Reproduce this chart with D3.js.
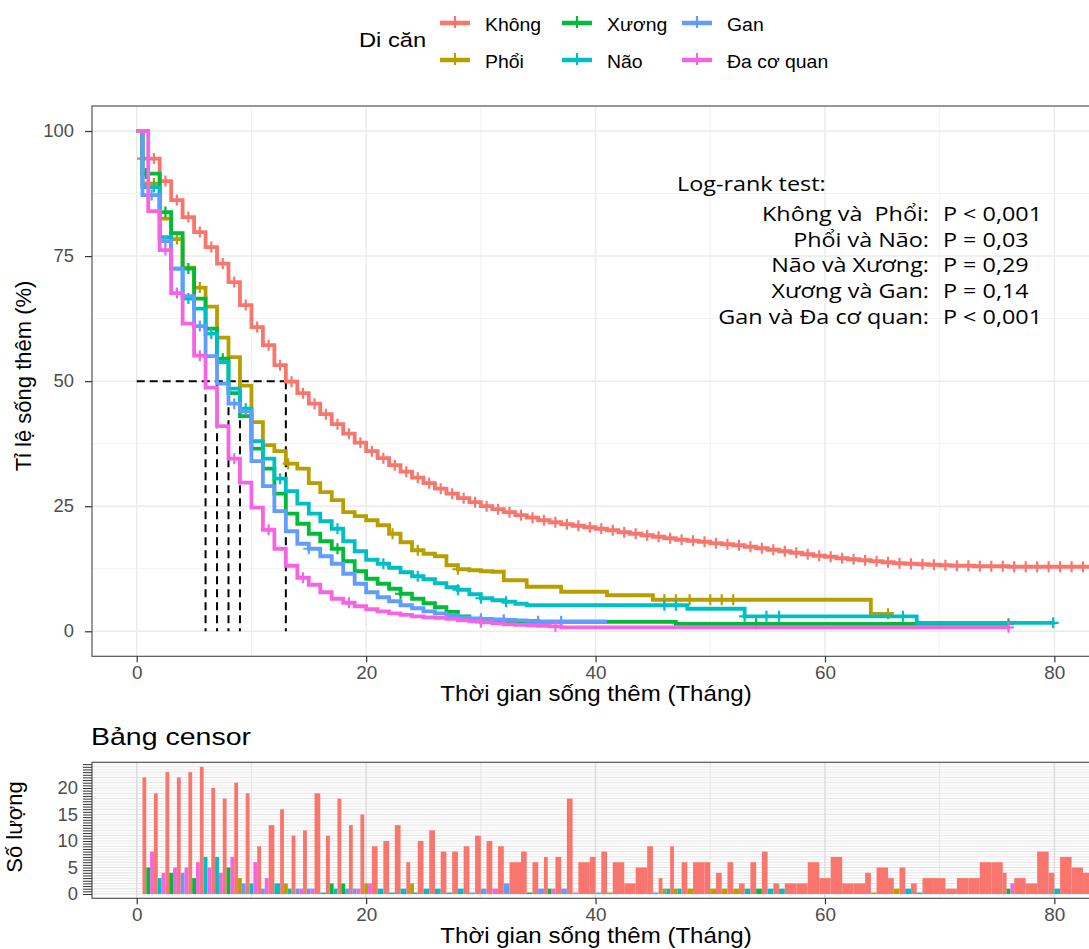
<!DOCTYPE html>
<html>
<head>
<meta charset="utf-8">
<script src="https://cdn.jsdelivr.net/npm/d3@7"></script>
<style>
body { margin: 0; background: #fff; }
text { font-family: "Liberation Sans", Arial, sans-serif; white-space: pre; }
</style>
</head>
<body>
<svg id="chart" width="1089" height="949"></svg>
<script>
// groups, in legend order, with ggplot hue colours
var groups = ["Không", "Phổi", "Xương", "Não", "Gan", "Đa cơ quan"];
var colors = ["#F8766D", "#B79F00", "#00BA38", "#00BFC4", "#619CFF", "#F564E3"];

// survival curves (% surviving), step times in months
var khongTimes = [0, 0.5, 2, 3, 4, 5, 6, 7, 8, 9, 10, 11, 12, 13, 14, 15, 16, 17, 18, 19, 20, 21, 22, 23,
  24, 25, 26, 27, 28, 29, 30, 31, 32, 33, 34, 35, 36, 37, 38, 39, 40, 41, 42, 43, 44, 45, 46, 47, 48, 49,
  50, 51, 52, 53, 54, 55, 56, 57, 58, 59, 60, 61, 62, 63, 64, 65, 66, 67, 68, 69, 70, 71, 72, 73, 74, 75,
  76, 77, 78, 79, 80, 81, 82, 83, 84];
var khongSurv = [100, 94.5, 90.0, 86.2, 82.8, 79.8, 76.8, 73.5, 69.8, 65.2, 60.8, 57.2, 53.2, 49.9, 47.6,
  45.5, 43.4, 41.4, 39.5, 37.7, 36.0, 34.6, 33.2, 31.9, 30.7, 29.6, 28.5, 27.5, 26.6, 25.8, 25.0, 24.4,
  23.8, 23.2, 22.7, 22.2, 21.8, 21.4, 21.1, 20.8, 20.5, 20.2, 19.8, 19.5, 19.2, 18.9, 18.6, 18.3, 18.1,
  17.9, 17.6, 17.4, 17.2, 16.9, 16.6, 16.3, 16.0, 15.7, 15.4, 15.1, 14.9, 14.6, 14.4, 14.2, 14.0, 13.8,
  13.6, 13.5, 13.4, 13.3, 13.2, 13.1, 13.1, 13.0, 13.0, 13.0, 12.9, 12.9, 12.9, 12.9, 12.9, 12.9, 12.9,
  12.9, 12.9];
var phoiTimes = [0, 0.5, 2, 3, 4, 5, 6, 7, 8, 9, 10, 11, 12, 13, 14, 15, 16, 17, 18, 19, 20, 21, 22, 23, 24,
  25, 26, 27, 28, 29, 30, 31, 32, 34, 37, 41, 45, 64];
var phoiSurv = [100, 89.5, 82.5, 78.4, 72.7, 68.7, 64.9, 58.7, 54.8, 49.1, 41.8, 37.2, 36.0, 33.5, 32.5,
  29.6, 27.8, 26.2, 23.8, 23.0, 22.2, 21.2, 19.5, 17.8, 16.2, 15.5, 15.0, 13.2, 12.4, 12.2, 12.0, 11.9,
  10.2, 8.9, 7.9, 7.2, 6.3, 3.5];
var xuongTimes = [0, 0.5, 2, 3, 4, 5, 6, 7, 8, 9, 10, 11, 12, 13, 14, 15, 16, 17, 18, 19, 20, 21, 22, 23, 24,
  25, 26, 27, 28, 29, 30, 31, 32, 33, 34, 47];
var xuongSurv = [100, 91.5, 83.8, 79.6, 72.5, 66.5, 60.5, 54.5, 47.6, 43.0, 36.5, 32.5, 27.5, 23.5, 21.5,
  19.5, 18.0, 16.5, 14.0, 12.0, 10.5, 9.5, 8.5, 7.5, 6.5, 5.6, 4.8, 3.9, 3.0, 2.5, 2.3, 2.1, 2.0, 2.0,
  1.9, 1.5];
var naoTimes = [0, 0.5, 2, 3, 4, 5, 6, 7, 8, 9, 10, 11, 12, 13, 14, 15, 16, 17, 18, 19, 20, 21, 22, 23, 24,
  25, 26, 27, 28, 29, 30, 31, 32, 33, 34, 48, 53, 68];
var naoSurv = [100, 88.8, 78.8, 72.5, 66.5, 64.5, 59.5, 53.8, 48.5, 44.5, 38.0, 34.5, 30.5, 28.0, 25.5,
  23.5, 22.0, 20.5, 18.0, 16.0, 14.3, 13.5, 12.7, 11.8, 11.0, 10.4, 9.6, 8.8, 8.3, 7.4, 6.6, 6.2, 5.9,
  5.5, 5.2, 4.5, 3.0, 1.7];
var ganTimes = [0, 0.5, 2, 3, 4, 5, 6, 7, 8, 9, 10, 11, 12, 13, 14, 15, 16, 17, 18, 19, 20, 21, 22, 23, 24,
  25, 26, 27, 28, 29, 30, 31, 32, 33, 34, 35];
var ganSurv = [100, 87.2, 78.0, 72.5, 67.0, 61.0, 55.0, 49.5, 45.5, 44.0, 34.0, 29.0, 24.0, 20.0, 17.5,
  16.5, 15.0, 13.5, 11.5, 9.5, 7.8, 6.8, 6.0, 5.2, 4.6, 4.0, 3.6, 3.2, 2.8, 2.6, 2.5, 2.4, 2.3, 2.2, 2.1,
  2.0];
var daTimes = [0, 1, 2, 3, 4, 5, 6, 7, 8, 9, 10, 11, 12, 13, 14, 15, 16, 17, 18, 19, 20, 21, 22, 23, 24,
  25, 26, 27, 28, 29, 30, 31, 32, 33, 34, 35, 36, 37];
var daSurv = [100, 84.0, 76.2, 67.6, 61.5, 55.1, 48.7, 41.0, 34.5, 29.7, 24.7, 20.3, 16.5, 13.1, 10.7, 9.3,
  7.8, 6.5, 5.7, 5.0, 4.4, 4.0, 3.6, 3.3, 3.0, 2.8, 2.7, 2.5, 2.2, 2.0, 1.8, 1.6, 1.4, 1.3, 1.2, 1.1,
  1.0, 0.8];
// last follow-up time of each curve
var endTimes = [86, 66, 76, 80, 41, 76];

// censoring times drawn as "+" on the curves
var khongCens = [0.5, 1.5, 2.5, 3.5, 4.5, 5.5, 6.5, 7.5, 8.5, 9.5, 10.5, 11.5, 12.5, 13.5, 14.5, 15.5,
  16.5, 17.5, 18.5, 19.5, 20.5, 21.5, 22.5, 23.5, 24.5, 25.5, 26.5, 27.5, 28.5, 29.5, 30.5, 31.5, 32.5,
  33.5, 34.5, 35.5, 36.5, 37.5, 38.5, 39.5, 40.5, 41.5, 42.5, 43.5, 44.5, 45.5, 46.5, 47.5, 48.5, 49.5,
  50.5, 51.5, 52.5, 53.5, 54.5, 55.5, 56.5, 57.5, 58.5, 59.5, 60.5, 61.5, 62.5, 63.5, 64.5, 65.5, 66.5,
  67.5, 68.5, 69.5, 70.5, 71.5, 72.5, 73.5, 74.5, 75.5, 76.5, 77.5, 78.5, 79.5, 80.5, 81.5, 82.5, 83.5];
var phoiCens = [1.5, 3.5, 5.5, 13.2, 22.3, 24.5, 28, 46, 47, 48.2, 50, 51, 52, 65.5];
var xuongCens = [0.8, 2.5, 4.5, 7.5, 17.5, 23, 54, 76];
var naoCens = [1.5, 4.5, 6.5, 9.5, 12.5, 17.5, 21.5, 24.5, 28, 30, 32.2, 46, 47, 53, 54.9, 56, 66.8, 79.9];
var ganCens = [1.3, 2.5, 5.5, 8.5, 15, 30, 32, 35, 37];
var daCens = [2.5, 3.5, 5.5, 8.5, 11.5, 14.5, 18.5, 30, 36.5, 76];

// median survival (months) for dashed guides
var medians = [13, 9, 8, 8, 7, 6];

// log-rank annotations
var lrPairs = ["Không và  Phổi:", "Phổi và Não:", "Não và Xương:", "Xương và Gan:", "Gan và Đa cơ quan:"];
var lrValues = ["P < 0,001", "P = 0,03", "P = 0,29", "P = 0,14", "P < 0,001"];

// censor table: [month, count] per group
var khongBars = [[1,22],[2,19],[3,23],[4,22],[5,23],[6,24],[7,20],[8,18],[9,21],[10,19],[11,9],[12,13],
  [13,16],[14,11],[15,12],[16,19],[17,11],[18,18],[19,13],[20,15],[21,9],[22,10],[23,13],[24,6],[25,10],
  [26,12],[27,8],[28,8],[29,9],[30,11],[31,10],[32,9],[33,6],[34,8],[35,6],[36,7],[37,7],[38,18],[39,6],
  [40,7],[41,8],[42,6],[43,2],[44,5],[45,9],[46,3],[47,9],[48,6],[49,6],[50,6],[51,4],[52,6],[53,2],
  [54,6],[55,8],[56,2],[57,2],[58,2],[59,6],[60,3],[61,7],[62,2],[63,2],[64,4],[65,5],[66,3],[67,5],
  [68,2],[69,3],[70,3],[71,1],[72,3],[73,3],[74,6],[75,6],[76,4],[77,3],[78,2],[79,8],[80,4],[81,7],
  [82,5],[83,4],[84,4]];
var phoiBars = [[9,3],[13,2],[20,2],[24,2],[41,0],[46,1],[47,1],[48,1],[50,1],[51,1],[52,1],[64,0],[66,1]];
var xuongBars = [[1,5],[3,4],[5,3],[8,5],[17,2],[18,2],[34,0],[36,1],[54,1],[76,1]];
var naoBars = [[2,3],[6,7],[7,7],[10,2],[12,2],[13,1],[16,0],[17,1],[21,1],[22,0],[23,1],[24,0],[25,1],
  [26,1],[27,0],[28,1],[46,1],[47,1],[53,1],[55,1],[56,1],[67,1],[68,0],[80,1]];
var ganBars = [[4,4],[9,2],[11,1],[14,1],[15,1],[18,1],[19,1],[29,0],[30,1],[32,2],[35,1],[37,1],[40,0],[45,0]];
var daBars = [[1,8],[2,4],[3,5],[4,5],[5,6],[6,5],[7,4],[8,7],[10,6],[11,3],[14,1],[15,1],[19,1],[20,2],
  [31,1],[36,1],[38,0],[76,2]];

var xTicks = [0, 20, 40, 60, 80];
var yTicks = [0, 25, 50, 75, 100];
var censorTicks = [0, 5, 10, 15, 20];

var curveTimes = [khongTimes, phoiTimes, xuongTimes, naoTimes, ganTimes, daTimes];
var curveSurv = [khongSurv, phoiSurv, xuongSurv, naoSurv, ganSurv, daSurv];
var curveCens = [khongCens, phoiCens, xuongCens, naoCens, ganCens, daCens];
var barSets = [khongBars, phoiBars, xuongBars, naoBars, ganBars, daBars];

var svg = d3.select("#chart");
svg.append("rect").attr("width", 1089).attr("height", 949).attr("fill", "#fff");

// text that is a little wider than the font (the picture is stretched sideways)
function wideText(parent, x, y, str, size, sx, anchor, family) {
  var t = parent.append("text")
    .attr("transform", "translate(" + x + "," + y + ") scale(" + sx + ",1)")
    .attr("text-anchor", anchor || "start").style("font-size", size + "px").text(str);
  if (family) t.style("font-family", family);
  return t;
}
function styleAxis(a, sx) {
  a.select(".domain").remove();
  a.selectAll("line").attr("stroke", "#333").attr("stroke-width", 1.2);
  a.selectAll("text").each(function () {
    var t = d3.select(this), xx = +t.attr("x") || 0;
    t.attr("x", 0).attr("transform", "translate(" + xx + ",0) scale(" + sx + ",1)");
  }).attr("fill", "#4D4D4D").style("font-size", "17.5px")
    .style("font-family", "'Liberation Sans', Arial, sans-serif");
}

// ---------------- main survival panel
var P = {left: 92, right: 1101.4, top: 106, bottom: 656.3};
var x = d3.scaleLinear().domain([-3.9, 84.1]).range([P.left, P.right]);
var y = d3.scaleLinear().domain([-5, 105]).range([P.bottom, P.top]);

svg.append("clipPath").attr("id", "clipMain").append("rect")
  .attr("x", P.left).attr("y", P.top).attr("width", P.right - P.left).attr("height", P.bottom - P.top);

var grid = svg.append("g");
[10, 30, 50, 70].forEach(function (v) {
  grid.append("line").attr("x1", x(v)).attr("x2", x(v)).attr("y1", P.top).attr("y2", P.bottom)
    .attr("stroke", "#F2F2F2").attr("stroke-width", 1);
});
[12.5, 37.5, 62.5, 87.5].forEach(function (v) {
  grid.append("line").attr("x1", P.left).attr("x2", P.right).attr("y1", y(v)).attr("y2", y(v))
    .attr("stroke", "#F2F2F2").attr("stroke-width", 1);
});
xTicks.forEach(function (v) {
  grid.append("line").attr("x1", x(v)).attr("x2", x(v)).attr("y1", P.top).attr("y2", P.bottom)
    .attr("stroke", "#EBEBEB").attr("stroke-width", 1.5);
});
yTicks.forEach(function (v) {
  grid.append("line").attr("x1", P.left).attr("x2", P.right).attr("y1", y(v)).attr("y2", y(v))
    .attr("stroke", "#EBEBEB").attr("stroke-width", 1.5);
});

// median guides
var guides = svg.append("g").attr("stroke", "#000").attr("stroke-width", 2)
  .attr("stroke-dasharray", "8,5").attr("fill", "none");
guides.append("line").attr("x1", x(0)).attr("x2", x(d3.max(medians))).attr("y1", y(50)).attr("y2", y(50));
Array.from(new Set(medians)).forEach(function (m) {
  guides.append("line").attr("x1", x(m)).attr("x2", x(m)).attr("y1", y(50)).attr("y2", y(0));
});

function survAt(g, t) {
  var i = d3.bisectRight(curveTimes[g], t) - 1;
  return curveSurv[g][Math.max(0, i)];
}

var curves = svg.append("g").attr("clip-path", "url(#clipMain)");
var line = d3.line().x(function (d) { return x(d[0]); }).y(function (d) { return y(d[1]); })
  .curve(d3.curveStepAfter);
groups.forEach(function (name, g) {
  var pts = curveTimes[g].map(function (t, i) { return [t, curveSurv[g][i]]; });
  pts.push([endTimes[g], curveSurv[g][curveSurv[g].length - 1]]);
  curves.append("path").attr("d", line(pts)).attr("fill", "none")
    .attr("stroke", colors[g]).attr("stroke-width", 3.8);
  var plus = curves.append("g").attr("stroke", colors[g]).attr("stroke-width", 2.2);
  curveCens[g].forEach(function (t) {
    var cx = x(t), cy = y(survAt(g, t));
    plus.append("path").attr("d", "M" + (cx - 5.5) + "," + cy + "H" + (cx + 5.5) + "M" + cx + "," + (cy - 5.5) + "V" + (cy + 5.5));
  });
});

svg.append("rect").attr("x", P.left).attr("y", P.top).attr("width", P.right - P.left)
  .attr("height", P.bottom - P.top).attr("fill", "none").attr("stroke", "#555").attr("stroke-width", 1.2);

// axes
var axX = svg.append("g").attr("transform", "translate(0," + P.bottom + ")")
  .call(d3.axisBottom(x).tickValues(xTicks).tickSize(6).tickPadding(4));
var axY = svg.append("g").attr("transform", "translate(" + P.left + ",0)")
  .call(d3.axisLeft(y).tickValues(yTicks).tickSize(7).tickPadding(11));
styleAxis(axX, 1.08);
styleAxis(axY, 1.05);

wideText(svg, 596, 701, "Thời gian sống thêm (Tháng)", 22, 1.094, "middle");
svg.append("text").attr("transform", "translate(31,376) rotate(-90)").attr("text-anchor", "middle")
  .style("font-size", "22px").text("Tỉ lệ sống thêm (%)");

// log-rank text
var lrFont = "'Open Sans', 'Noto Sans', sans-serif";
var lr = svg.append("g");
wideText(lr, 677, 191, "Log-rank test:", 20.5, 1.14, "start", lrFont);
var lrY = [221, 246.5, 272, 297.5, 324];
lrPairs.forEach(function (s, i) {
  wideText(lr, 929, lrY[i], s, 20.5, 1.14, "end", lrFont);
  wideText(lr, 943, lrY[i], lrValues[i], 20.5, 1.14, "start", lrFont);
});

// legend
var leg = svg.append("g");
wideText(leg, 359, 47, "Di căn", 21, 1.13, "start");
var legCols = [440, 562, 682];
var legRows = [23, 60];
groups.forEach(function (name, g) {
  var cx = legCols[Math.floor(g / 2)], cy = legRows[g % 2];
  leg.append("line").attr("x1", cx).attr("x2", cx + 30).attr("y1", cy).attr("y2", cy)
    .attr("stroke", colors[g]).attr("stroke-width", 4.5);
  leg.append("path").attr("d", "M" + (cx + 9) + "," + cy + "H" + (cx + 21) + "M" + (cx + 15) + "," + (cy - 7) + "V" + (cy + 5))
    .attr("stroke", colors[g]).attr("stroke-width", 2.2);
  wideText(leg, cx + 45, cy + 8, name, 18.5, 1.05, "start");
});

// ---------------- censor table panel
var B = {left: 92, right: 1101.4, top: 762.3, bottom: 898.3};
var yb = d3.scaleLinear().domain([-0.81, 24.85]).range([B.bottom, B.top]);

svg.append("clipPath").attr("id", "clipBottom").append("rect")
  .attr("x", B.left).attr("y", B.top).attr("width", B.right - B.left).attr("height", B.bottom - B.top);

var gb = svg.append("g").attr("clip-path", "url(#clipBottom)");
d3.range(0, 25, 0.5).forEach(function (v) {
  gb.append("line").attr("x1", B.left).attr("x2", B.right).attr("y1", yb(v)).attr("y2", yb(v))
    .attr("stroke", v % 1 === 0 ? "#E3E3E3" : "#EEEEEE").attr("stroke-width", 1);
});
[10, 30, 50, 70].forEach(function (v) {
  gb.append("line").attr("x1", x(v)).attr("x2", x(v)).attr("y1", B.top).attr("y2", B.bottom)
    .attr("stroke", "#E6E6E6").attr("stroke-width", 1);
});
xTicks.forEach(function (v) {
  gb.append("line").attr("x1", x(v)).attr("x2", x(v)).attr("y1", B.top).attr("y2", B.bottom)
    .attr("stroke", "#DDDDDD").attr("stroke-width", 1.5);
});

// dodge: bars present in the same month share that month's width
var byMonth = new Map();
barSets.forEach(function (set, g) {
  set.forEach(function (d) {
    if (!byMonth.has(d[0])) byMonth.set(d[0], []);
    byMonth.get(d[0]).push({g: g, n: d[1]});
  });
});
byMonth.forEach(function (list, m) {
  list.sort(function (a, b) { return a.g - b.g; });
  var k = list.length;
  list.forEach(function (d, i) {
    var x0 = x(m - 0.5 + i / k), x1 = x(m - 0.5 + (i + 1) / k);
    var top = Math.min(yb(d.n), yb(0) - 1.5);
    gb.append("rect").attr("x", x0).attr("width", x1 - x0).attr("y", top).attr("height", yb(0) - top)
      .attr("fill", colors[d.g]);
  });
});

svg.append("rect").attr("x", B.left).attr("y", B.top).attr("width", B.right - B.left)
  .attr("height", B.bottom - B.top).attr("fill", "none").attr("stroke", "#555").attr("stroke-width", 1.2);

var bX = svg.append("g").attr("transform", "translate(0," + B.bottom + ")")
  .call(d3.axisBottom(x).tickValues(xTicks).tickSize(6).tickPadding(4));
var bY = svg.append("g").attr("transform", "translate(" + B.left + ",0)")
  .call(d3.axisLeft(yb).tickValues(d3.range(0, 25, 0.5)).tickSize(9).tickPadding(5)
    .tickFormat(function (v) { return censorTicks.indexOf(v) >= 0 ? v : ""; }));
styleAxis(bX, 1.08);
styleAxis(bY, 1.05);
bY.selectAll("line").attr("stroke-width", 1);

wideText(svg, 91, 745, "Bảng censor", 23, 1.24, "start");
wideText(svg, 596, 943, "Thời gian sống thêm (Tháng)", 22, 1.094, "middle");
svg.append("text").attr("transform", "translate(22,827) rotate(-90)").attr("text-anchor", "middle")
  .style("font-size", "22px").text("Số lượng");
</script>
</body>
</html>
